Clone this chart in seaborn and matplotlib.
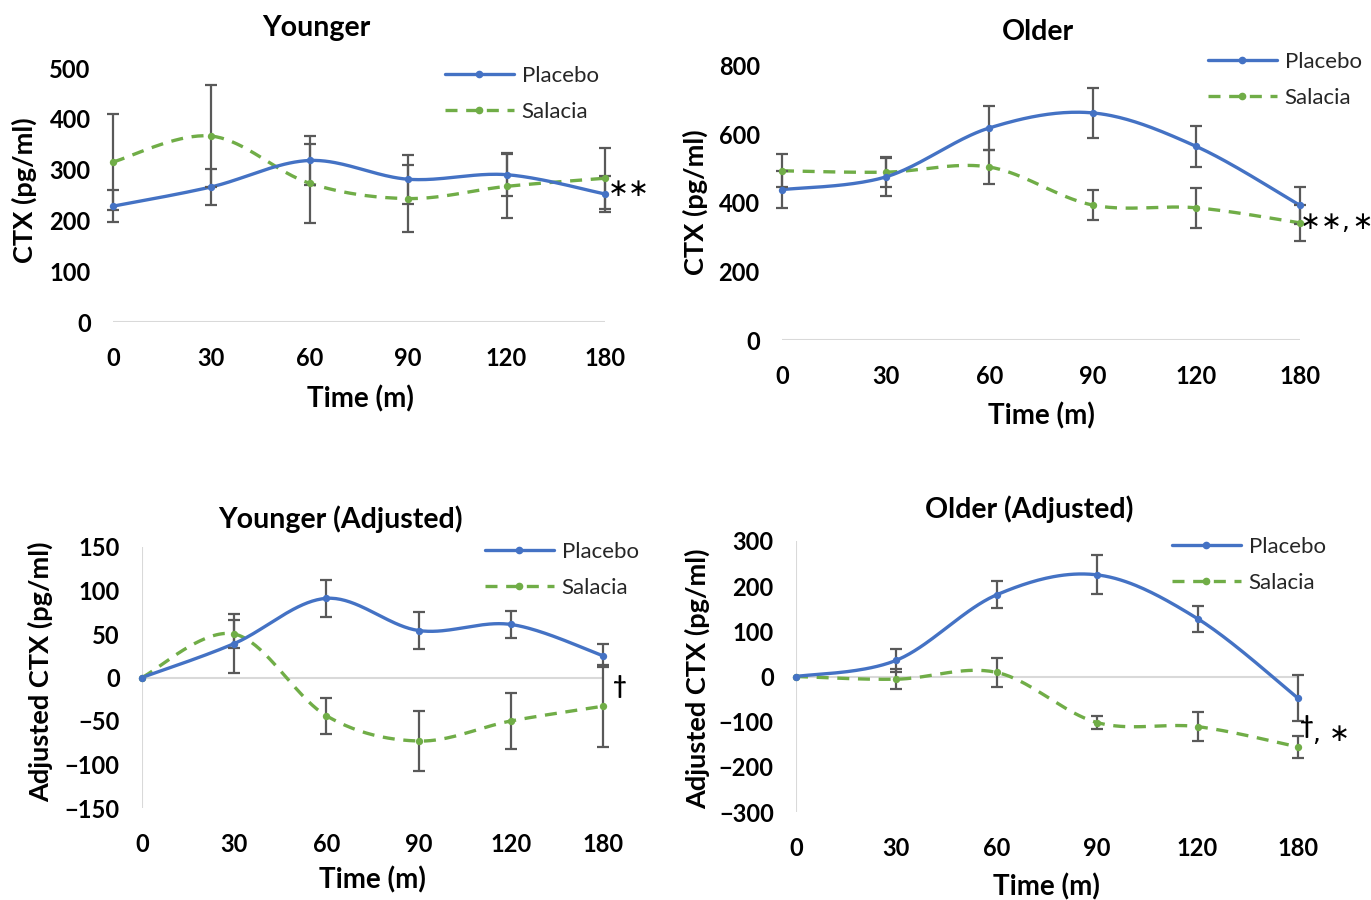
import numpy as np
import pandas as pd
import matplotlib
matplotlib.use("Agg")
import matplotlib.pyplot as plt
from matplotlib.lines import Line2D
import seaborn as sns

# ---------------- data ----------------
times = ["0", "30", "60", "90", "120", "180"]

young_placebo = [228, 266, 318, 281, 290, 252]
young_placebo_err = [32, 36, 48, 48, 42, 35]
young_salacia = [315, 366, 273, 243, 267, 283]
young_salacia_err = [94, 100, 78, 66, 63, 60]

old_placebo = [439, 476, 619, 663, 565, 393]
old_placebo_err = [55, 55, 64, 72, 61, 54]
old_salacia = [494, 490, 505, 394, 386, 342]
old_salacia_err = [48, 43, 50, 44, 59, 52]

yadj_placebo = [0, 39, 91, 54, 61, 25]
yadj_placebo_err = [0, 34, 21, 21, 16, 13]
yadj_salacia = [0, 50, -44, -73, -50, -33]
yadj_salacia_err = [0, 16, 21, 35, 32, 47]

oadj_placebo = [0, 36, 181, 225, 128, -48]
oadj_placebo_err = [0, 25, 30, 43, 29, 51]
oadj_salacia = [0, -6, 9, -102, -111, -156]
oadj_salacia_err = [0, 22, 33, 15, 32, 25]

series_names = ["Placebo", "Salacia"]

# ---------------- style ----------------
sns.set_theme(style="white")
plt.rcParams["font.family"] = ["Lato", "DejaVu Sans"]

W, H = 1371, 900
BLUE = "#4472C4"
GREEN = "#70AD47"
ERR = "#595959"
AXLINE = "#D9D9D9"
DASH = (0, (3.6, 2.6))
LW = 2.0

fig = plt.figure(figsize=(W / 100, H / 100), dpi=100)


def excel_smooth(vals, n=40):
    """Bezier smoothing through the data points (Excel 'smoothed line')."""
    y = np.asarray(vals, float)
    P = np.column_stack([np.arange(len(y), dtype=float), y])
    out = []
    for i in range(len(P) - 1):
        p0 = P[i - 1] if i > 0 else P[i]
        p1, p2 = P[i], P[i + 1]
        p3 = P[i + 2] if i + 2 < len(P) else P[i + 1]
        c1 = p1 + (p2 - p0) / 6.0
        c2 = p2 - (p3 - p1) / 6.0
        t = np.linspace(0, 1, n)[:, None]
        seg = (1 - t) ** 3 * p1 + 3 * (1 - t) ** 2 * t * c1 + 3 * (1 - t) * t ** 2 * c2 + t ** 3 * p2
        out.append(seg if i == 0 else seg[1:])
    return np.vstack(out)


MARK_STYLES = {
    "ast": dict(family=["DejaVu Sans"], fontsize=18, fontweight="normal"),
    "dag": dict(family=["Lato", "DejaVu Sans"], fontsize=17, fontweight="bold"),
}


def panel(l, r, t, b, placebo, placebo_err, salacia, salacia_err, ylim, ystep,
          title, title_px, ylabel, ylabel_px, xlabel_px, legend_px, annot,
          vline=False):
    ax = fig.add_axes([l / W, 1 - b / H, (r - l) / W, (b - t) / H])
    ax.set_facecolor("none")
    xpos = np.arange(len(times))

    # axis lines
    ax.axhline(0, color=AXLINE, lw=1.5, zorder=1)
    if vline:
        ax.axvline(0, color=AXLINE, lw=1.5, zorder=1)

    specs = [(salacia, salacia_err, GREEN, DASH, "Salacia"),
             (placebo, placebo_err, BLUE, "-", "Placebo")]
    for vals, errs, color, ls, name in specs:
        curve = excel_smooth(vals)
        df = pd.DataFrame({"x": curve[:, 0], "y": curve[:, 1]})
        sns.lineplot(data=df, x="x", y="y", ax=ax, color=color, linestyle=ls,
                     linewidth=LW * 1.2, sort=False, estimator=None, clip_on=False,
                     zorder=2)
        errs = np.asarray(errs, float)
        m = errs > 0
        ax.errorbar(xpos[m], np.asarray(vals, float)[m], yerr=errs[m], fmt="none",
                    ecolor=ERR, elinewidth=1.6, capsize=4.5, capthick=1.6,
                    zorder=3, clip_on=False)
        pts = pd.DataFrame({"x": xpos, "y": vals})
        sns.scatterplot(data=pts, x="x", y="y", ax=ax, color=color, s=28,
                        edgecolor=color, linewidth=0, zorder=4, clip_on=False)

    ax.set_xlim(0, len(times) - 1)
    ax.set_ylim(*ylim)
    ax.set_xticks(xpos)
    ax.set_xticklabels(times)
    ax.set_yticks(np.arange(ylim[0], ylim[1] + 1, ystep))
    ax.tick_params(axis="both", length=0, labelsize=17, colors="black")
    ax.tick_params(axis="x", pad=18)
    ax.tick_params(axis="y", pad=16)
    for lab in ax.get_xticklabels() + ax.get_yticklabels():
        lab.set_fontweight("bold")
    for s in ax.spines.values():
        s.set_visible(False)
    ax.grid(False)

    def to_ax(px, py):
        return (px - l) / (r - l), (b - py) / (b - t)

    ax.set_title(title, fontsize=20.5, fontweight="bold", color="black",
                 x=to_ax(*title_px)[0], y=to_ax(*title_px)[1], va="center", pad=0)
    ax.set_xlabel("Time (m)", fontsize=20, fontweight="bold", color="black")
    ax.xaxis.set_label_coords(*to_ax(*xlabel_px))
    ax.xaxis.label.set_va("center")
    ax.set_ylabel(ylabel, fontsize=19.5, fontweight="bold", color="black")
    ax.yaxis.set_label_coords(*to_ax(*ylabel_px))
    ax.yaxis.label.set_va("center")

    handles = [Line2D([0], [0], color=BLUE, lw=LW * 1.2, marker="o", markersize=4.5),
               Line2D([0], [0], color=GREEN, lw=LW * 1.2, linestyle=DASH, marker="o",
                      markersize=4.5)]
    lx, ly = legend_px
    ax.legend(handles, series_names, loc="upper left",
              bbox_to_anchor=(lx / W, 1 - ly / H), bbox_transform=fig.transFigure,
              frameon=False, fontsize=16, handlelength=3.1, handletextpad=0.35,
              labelspacing=0.72, borderpad=0, borderaxespad=0, numpoints=1)

    # significance marks (left pixel position, vertical centre)
    for txt, kind, lx_, cy in annot:
        ax.text(*to_ax(lx_, cy), txt, transform=ax.transAxes, va="center",
                ha="left", color="black", **MARK_STYLES[kind])
    return ax


panel(113, 605, 68, 322, young_placebo, young_placebo_err, young_salacia, young_salacia_err,
      (0, 500), 100, "Younger", (316, 28), "CTX (pg/ml)", (24, 190), (360, 399),
      (445, 66), [("\u2217\u2217", "ast", 608, 189)])

panel(782, 1300, 66, 340, old_placebo, old_placebo_err, old_salacia, old_salacia_err,
      (0, 800), 200, "Older", (1038, 32), "CTX (pg/ml)", (695, 202), (1041, 416),
      (1208, 52), [("\u2217\u2217,\u200a\u2217", "ast", 1300, 222)])

panel(142, 603, 547, 808, yadj_placebo, yadj_placebo_err, yadj_salacia, yadj_salacia_err,
      (-150, 150), 50, "Younger (Adjusted)", (340, 519), "Adjusted CTX (pg/ml)", (40, 672),
      (372, 880), (485, 542), [("\u2020", "dag", 613, 687)], vline=True)

panel(796, 1298, 541, 812, oadj_placebo, oadj_placebo_err, oadj_salacia, oadj_salacia_err,
      (-300, 300), 100, "Older (Adjusted)", (1029, 509), "Adjusted CTX (pg/ml)", (697, 679),
      (1046, 887), (1172, 537), [("\u2020", "dag", 1300, 727),
                                 (", \u2217", "ast", 1313, 734)], vline=True)

fig.savefig("out.png", dpi=100)
